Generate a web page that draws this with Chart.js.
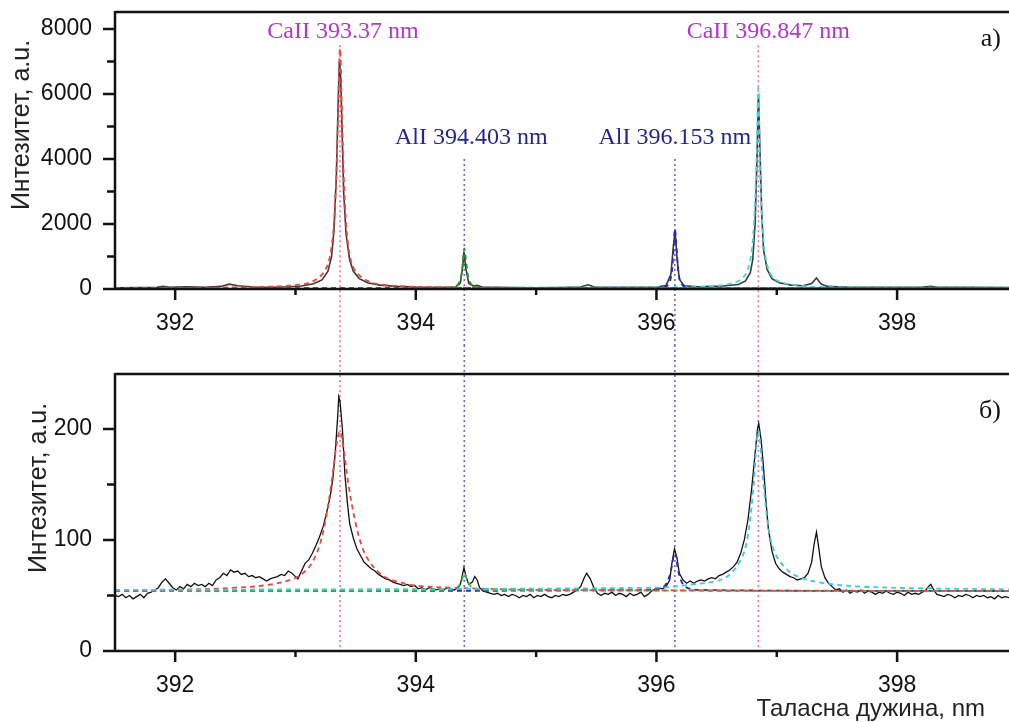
<!DOCTYPE html>
<html>
<head>
<meta charset="utf-8">
<script src="https://cdn.jsdelivr.net/npm/chart.js@4.4.1/dist/chart.umd.min.js"></script>
<style>
    html, body { margin: 0; padding: 0; background: #fff; overflow: hidden; }
    #wrap { position: relative; width: 1009px; height: 722px; }
    canvas { position: absolute; left: 0; }
    #topChart { top: 0; }
    #botChart { top: 345px; }
</style>
</head>
<body>
<div id="wrap">
    <canvas id="topChart" width="1009" height="345"></canvas>
    <canvas id="botChart" width="1009" height="377"></canvas>
</div>
<script>
// --- Data ---
const xTicks = [392, 393, 394, 395, 396, 397, 398];
const topYTicks = [0, 1000, 2000, 3000, 4000, 5000, 6000, 7000, 8000];
const botYTicks = [0, 50, 100, 150, 200];

// spectral lines (nm) and their labels
const lineNm = [393.37, 394.403, 396.153, 396.847];
const lineLabels = ['CaII 393.37 nm', 'AlI 394.403 nm', 'AlI 396.153 nm', 'CaII 396.847 nm'];
const lineElement = ['Ca', 'Al', 'Al', 'Ca'];

// panel a) measured spectrum
const topX = [
    391.50, 391.70, 391.85, 391.90, 391.95, 392.10, 392.25, 392.38, 392.45, 392.52,
    392.65, 392.80, 392.95, 393.05, 393.15, 393.22, 393.27, 393.30, 393.32, 393.34,
    393.355, 393.365, 393.375, 393.39, 393.40, 393.42, 393.45, 393.48, 393.53, 393.60,
    393.70, 393.85, 394.00, 394.20, 394.33, 394.37, 394.39, 394.40, 394.415, 394.44,
    394.48, 394.51, 394.55, 394.80, 395.00, 395.20, 395.37, 395.43, 395.49, 395.80,
    396.00, 396.08, 396.12, 396.14, 396.155, 396.17, 396.19, 396.23, 396.35, 396.55,
    396.68, 396.74, 396.78, 396.80, 396.82, 396.835, 396.848, 396.86, 396.875, 396.89,
    396.92, 396.96, 397.02, 397.12, 397.22, 397.29, 397.33, 397.37, 397.42, 397.60,
    397.90, 398.20, 398.28, 398.33, 398.60, 398.93
];
const topY = [
    40, 45, 50, 85, 55, 70, 55, 80, 150, 100,
    60, 55, 70, 90, 160, 280, 550, 1000, 1800, 3500,
    5800, 7000, 6600, 4500, 3000, 1700, 900, 550, 320, 190,
    120, 80, 60, 50, 60, 180, 700, 1150, 650, 170,
    90, 110, 60, 45, 40, 45, 60, 130, 55, 50,
    60, 110, 450, 1300, 1800, 1000, 300, 100, 70, 90,
    140, 250, 500, 900, 2000, 4000, 6000, 4300, 2300, 1200,
    600, 320, 190, 120, 100, 170, 340, 150, 80, 55,
    50, 55, 80, 50, 50, 45
];

// panel a) fitted profiles
const topFitCa1X = [391.50, 392.50, 393.00, 393.15, 393.25, 393.30, 393.33, 393.35, 393.37, 393.39, 393.41, 393.44, 393.49, 393.60, 393.75, 394.20, 395.00, 398.93];
const topFitCa1Y = [30, 50, 120, 250, 600, 1300, 2700, 4800, 7400, 4800, 2700, 1300, 600, 250, 120, 50, 35, 30];
const topFitAl1X = [391.50, 394.20, 394.33, 394.37, 394.39, 394.403, 394.42, 394.44, 394.48, 394.60, 398.93];
const topFitAl1Y = [30, 35, 80, 300, 800, 1250, 800, 300, 80, 35, 30];
const topFitAl2X = [391.50, 395.95, 396.08, 396.12, 396.14, 396.153, 396.17, 396.19, 396.23, 396.35, 398.93];
const topFitAl2Y = [30, 35, 80, 350, 1100, 1850, 1100, 350, 80, 35, 30];
const topFitCa2X = [391.50, 396.30, 396.60, 396.72, 396.78, 396.81, 396.83, 396.847, 396.86, 396.88, 396.91, 396.97, 397.10, 397.40, 398.93];
const topFitCa2Y = [30, 60, 150, 350, 900, 2000, 3800, 6200, 3800, 2000, 900, 350, 150, 60, 40];

// panel б) measured spectrum
const botX = [
    391.50, 391.53, 391.56, 391.59, 391.62, 391.65, 391.68, 391.71, 391.74, 391.77,
    391.80, 391.83, 391.86, 391.89, 391.92, 391.95, 391.98, 392.01, 392.04, 392.07,
    392.10, 392.13, 392.16, 392.19, 392.22, 392.25, 392.28, 392.31, 392.34, 392.37,
    392.40, 392.43, 392.46, 392.49, 392.52, 392.55, 392.58, 392.61, 392.64, 392.67,
    392.70, 392.73, 392.76, 392.79, 392.82, 392.85, 392.88, 392.91, 392.94, 392.97,
    393.00, 393.02, 393.05, 393.08, 393.11, 393.14, 393.17, 393.20, 393.23, 393.26,
    393.29, 393.31, 393.33, 393.35, 393.36, 393.37, 393.39, 393.41, 393.43, 393.45,
    393.48, 393.51, 393.54, 393.57, 393.60, 393.63, 393.66, 393.69, 393.72, 393.75,
    393.78, 393.81, 393.84, 393.87, 393.90, 393.93, 393.96, 393.99, 394.02, 394.05,
    394.08, 394.11, 394.14, 394.17, 394.20, 394.23, 394.26, 394.29, 394.32, 394.35,
    394.37, 394.39, 394.40, 394.42, 394.44, 394.47, 394.49, 394.51, 394.53, 394.56,
    394.59, 394.62, 394.65, 394.68, 394.71, 394.74, 394.77, 394.80, 394.83, 394.86,
    394.89, 394.92, 394.95, 394.98, 395.01, 395.04, 395.07, 395.10, 395.13, 395.16,
    395.19, 395.22, 395.25, 395.28, 395.31, 395.34, 395.37, 395.40, 395.42, 395.45,
    395.48, 395.51, 395.54, 395.57, 395.60, 395.63, 395.66, 395.69, 395.72, 395.75,
    395.78, 395.81, 395.84, 395.87, 395.90, 395.93, 395.96, 395.99, 396.02, 396.05,
    396.08, 396.11, 396.13, 396.15, 396.17, 396.19, 396.22, 396.25, 396.28, 396.31,
    396.34, 396.37, 396.40, 396.43, 396.46, 396.49, 396.52, 396.55, 396.58, 396.61,
    396.64, 396.67, 396.70, 396.73, 396.76, 396.79, 396.82, 396.84, 396.85, 396.87,
    396.89, 396.91, 396.93, 396.96, 396.99, 397.02, 397.05, 397.08, 397.11, 397.14,
    397.17, 397.20, 397.23, 397.26, 397.29, 397.31, 397.33, 397.35, 397.37, 397.40,
    397.43, 397.46, 397.49, 397.52, 397.55, 397.58, 397.61, 397.64, 397.67, 397.70,
    397.73, 397.76, 397.79, 397.82, 397.85, 397.88, 397.91, 397.94, 397.97, 398.00,
    398.03, 398.06, 398.09, 398.12, 398.15, 398.18, 398.21, 398.24, 398.26, 398.28,
    398.30, 398.33, 398.36, 398.39, 398.42, 398.45, 398.48, 398.51, 398.54, 398.57,
    398.60, 398.63, 398.66, 398.69, 398.72, 398.75, 398.78, 398.81, 398.84, 398.87,
    398.90, 398.93
];
const botY = [
    50, 49, 51, 48, 50, 47, 49, 51, 48, 52,
    53, 55, 57, 62, 65, 61, 57, 55, 58, 56,
    60, 58, 61, 59, 60, 58, 61, 59, 64, 66,
    70, 68, 73, 71, 72, 69, 70, 67, 68, 66,
    67, 65, 63, 65, 66, 67, 69, 68, 72, 70,
    67, 65, 72, 79, 82, 88, 95, 103, 112, 125,
    140, 155, 178, 210, 229, 225, 200, 160, 135, 115,
    102, 92, 86, 80, 77, 74, 72, 69, 67, 65,
    64, 62, 61, 60, 59, 60, 58, 59, 56, 57,
    55, 57, 56, 55, 56, 55, 57, 56, 55, 57,
    60, 70, 75, 66, 60, 62, 67, 64, 57, 54,
    53, 52, 51, 52, 50, 51, 49, 51, 50, 48,
    50, 49, 51, 48, 50, 49, 51, 49, 48, 50,
    49, 51, 50, 51, 53, 55, 58, 66, 70, 65,
    57, 52, 50, 52, 51, 53, 50, 52, 51, 49,
    52, 50, 51, 53, 49, 51, 54, 56, 57, 56,
    58, 64, 80, 92, 84, 70, 64, 61, 63, 61,
    63, 64, 63, 65, 66, 65, 68, 69, 71, 73,
    76, 80, 88, 100, 118, 145, 178, 200, 205, 190,
    165, 135, 110, 90, 79, 74, 71, 69, 67, 66,
    64, 65, 66, 70, 80, 96, 107, 92, 76, 66,
    61, 58, 55, 56, 53, 55, 52, 54, 53, 55,
    52, 54, 53, 51, 53, 52, 54, 52, 51, 53,
    52, 50, 53, 51, 52, 51, 53, 55, 58, 60,
    56, 51, 50, 49, 51, 50, 48, 50, 49, 51,
    50, 48, 50, 49, 50, 48, 49, 47, 50, 48,
    49, 48
];

// panel б) fitted profiles
const botFitCa1X = [391.50, 392.00, 392.50, 392.80, 393.00, 393.10, 393.15, 393.20, 393.25, 393.30, 393.34, 393.37, 393.40, 393.44, 393.50, 393.55, 393.60, 393.70, 393.80, 394.00, 394.30, 394.60, 395.00, 398.93];
const botFitCa1Y = [54, 55, 57, 60, 66, 74, 82, 95, 118, 152, 185, 198, 182, 150, 115, 95, 83, 70, 64, 59, 57, 56, 55, 54];
const botFitAl1X = [391.50, 394.25, 394.34, 394.38, 394.403, 394.43, 394.47, 394.56, 398.93];
const botFitAl1Y = [54, 55, 57, 63, 70, 63, 57, 55, 54];
const botFitAl2X = [391.50, 395.95, 396.06, 396.11, 396.153, 396.19, 396.24, 396.35, 398.93];
const botFitAl2Y = [54, 55, 58, 68, 88, 68, 58, 55, 54];
const botFitCa2X = [391.50, 396.00, 396.30, 396.50, 396.60, 396.70, 396.75, 396.80, 396.847, 396.89, 396.94, 397.00, 397.10, 397.20, 397.40, 397.70, 398.20, 398.93];
const botFitCa2Y = [55, 57, 60, 63, 68, 82, 98, 140, 198, 150, 105, 85, 72, 66, 61, 58, 56.5, 55.5];

// --- Styling ---
const SANS = '"Liberation Sans", Arial, sans-serif';
const SERIF = '"Liberation Serif", "Times New Roman", serif';
const X_MIN = 391.5;
const X_MAX = 398.93;
const colCa = '#b236c9';
const colAl = '#23268e';
const markCa = '#ff6c9c';
const markAl = '#6a6ac4';

function pts(xs, ys) {
    return xs.map((x, i) => ({ x: x, y: ys[i] }));
}

function specSet(xs, ys, color, width) {
    return { data: pts(xs, ys), borderColor: color, borderWidth: width, pointRadius: 0, tension: 0, order: 3 };
}

function fitSet(xs, ys, color, order) {
    return { data: pts(xs, ys), borderColor: color, borderWidth: 1.8, borderDash: [5, 4], pointRadius: 0, tension: 0.35, order: order || 1 };
}

// axes frame, ticks, markers and texts
const panelPlugin = {
    id: 'panel',
    beforeDatasetsDraw(chart, args, o) {
        const { ctx, chartArea: a, scales: { x, y } } = chart;
        ctx.save();
        ctx.lineWidth = 1.6;
        ctx.setLineDash([2, 3]);
        lineNm.forEach((nm, i) => {
            const px = x.getPixelForValue(nm);
            const isCa = lineElement[i] === 'Ca';
            const top = o.markFrom ? y.getPixelForValue(isCa ? o.markFrom.Ca : o.markFrom.Al) : 0;
            const bottom = o.extendBelow ? chart.height : a.bottom;
            ctx.strokeStyle = isCa ? markCa : markAl;
            ctx.beginPath();
            ctx.moveTo(px, top);
            ctx.lineTo(px, bottom);
            ctx.stroke();
        });
        ctx.restore();
    },
    afterDraw(chart, args, o) {
        const { ctx, chartArea: a, scales: { x, y } } = chart;
        ctx.save();
        ctx.strokeStyle = '#111';
        ctx.lineWidth = 2.5;
        ctx.beginPath();
        ctx.moveTo(a.left, a.top); ctx.lineTo(a.right, a.top);
        ctx.moveTo(a.left, a.top - 1); ctx.lineTo(a.left, a.bottom);
        ctx.moveTo(a.left, a.bottom); ctx.lineTo(a.right, a.bottom);
        x.ticks.forEach(t => {
            const px = x.getPixelForValue(t.value);
            const len = t.value % 2 === 0 ? 11 : 6;
            ctx.moveTo(px, a.bottom); ctx.lineTo(px, a.bottom + len);
        });
        y.ticks.forEach(t => {
            const py = y.getPixelForValue(t.value);
            const len = t.value % o.yMajor === 0 ? 12 : 8;
            ctx.moveTo(a.left, py); ctx.lineTo(a.left - len, py);
        });
        ctx.stroke();

        // y title
        ctx.fillStyle = '#222';
        ctx.font = '25px ' + SANS;
        ctx.textAlign = 'center';
        ctx.textBaseline = 'middle';
        ctx.save();
        ctx.translate(o.yTitle.x, o.yTitle.y);
        ctx.rotate(-Math.PI / 2);
        ctx.fillText('Интезитет, a.u.', 0, 0);
        ctx.restore();

        // panel letter
        ctx.font = '26px ' + SERIF;
        ctx.fillStyle = '#111';
        ctx.textAlign = 'right';
        ctx.fillText(o.letter, a.right - 8, o.letterY);

        // line labels
        if (o.labels) {
            ctx.font = '24px ' + SERIF;
            ctx.textAlign = 'center';
            lineNm.forEach((nm, i) => {
                const isCa = lineElement[i] === 'Ca';
                ctx.fillStyle = isCa ? colCa : colAl;
                const px = x.getPixelForValue(nm) + o.labels.dx[i];
                const py = y.getPixelForValue(isCa ? o.labels.Ca : o.labels.Al);
                ctx.fillText(lineLabels[i], px, py);
            });
        }

        // x title
        if (o.xTitle) {
            ctx.font = '24px ' + SANS;
            ctx.fillStyle = '#222';
            ctx.textAlign = 'right';
            ctx.fillText('Таласна дужина, nm', o.xTitle.x, o.xTitle.y);
        }
        ctx.restore();
    }
};

function makeChart(id, datasets, yMax, yTicks, yMajor, padTop, xAxisH, panel) {
    return new Chart(document.getElementById(id), {
        type: 'line',
        data: { datasets: datasets },
        plugins: [panelPlugin],
        options: {
            responsive: false,
            animation: false,
            layout: { autoPadding: false, padding: { top: padTop, left: 0, right: 0, bottom: 0 } },
            plugins: { legend: { display: false }, tooltip: { enabled: false }, panel: panel },
            scales: {
                x: {
                    type: 'linear', min: X_MIN, max: X_MAX,
                    afterBuildTicks: s => { s.ticks = xTicks.map(v => ({ value: v })); },
                    afterFit: s => { s.height = xAxisH; },
                    grid: { display: false, drawTicks: false },
                    border: { display: false },
                    ticks: {
                        autoSkip: false, maxRotation: 0, padding: 21, color: '#111',
                        font: { family: SANS, size: 23 },
                        callback: v => (v % 2 === 0 ? String(v) : '')
                    }
                },
                y: {
                    type: 'linear', min: 0, max: yMax,
                    afterBuildTicks: s => { s.ticks = yTicks.map(v => ({ value: v })); },
                    afterFit: s => { s.width = 115; },
                    // invisible tick marks only push the labels away from the axis
                    grid: { display: false, drawTicks: true, tickLength: 23 },
                    border: { display: false },
                    ticks: {
                        autoSkip: false, padding: 0, color: '#111',
                        font: { family: SANS, size: 23, lineHeight: 1 },
                        callback: v => (v % yMajor === 0 ? String(v) : '')
                    }
                }
            }
        }
    });
}

makeChart('topChart', [
    fitSet(topFitCa1X, topFitCa1Y, '#f0443c'),
    fitSet(topFitAl1X, topFitAl1Y, '#1f9a2a'),
    fitSet(topFitAl2X, topFitAl2Y, '#2a2ab8'),
    fitSet(topFitCa2X, topFitCa2Y, '#3fd6df'),
    specSet(topX, topY, '#3a3a3a', 1.6)
], 8520, topYTicks, 2000, 12, 56, {
    yMajor: 2000,
    extendBelow: true,
    markFrom: { Ca: 7500, Al: 4000 },
    labels: { Ca: 7900, Al: 4650, dx: [3, 7, 0, 10] },
    yTitle: { x: 22, y: 125 },
    letter: 'a)', letterY: 39
});

// cyan fit gets the lowest order so its baseline sits on top of the others
makeChart('botChart', [
    fitSet(botFitCa1X, botFitCa1Y, '#f0443c', 1),
    fitSet(botFitAl1X, botFitAl1Y, '#2fbf3a', 2),
    fitSet(botFitAl2X, botFitAl2Y, '#2a2ab8', 2),
    fitSet(botFitCa2X, botFitCa2Y, '#3cc8e6', 0.5),
    specSet(botX, botY, '#111', 1.3)
], 249.5, botYTicks, 100, 29, 71, {
    yMajor: 100,
    extendBelow: false,
    markFrom: null,
    labels: null,
    yTitle: { x: 39, y: 143 },
    letter: 'б)', letterY: 66,
    xTitle: { x: 985, y: 364 }
});
</script>
</body>
</html>
